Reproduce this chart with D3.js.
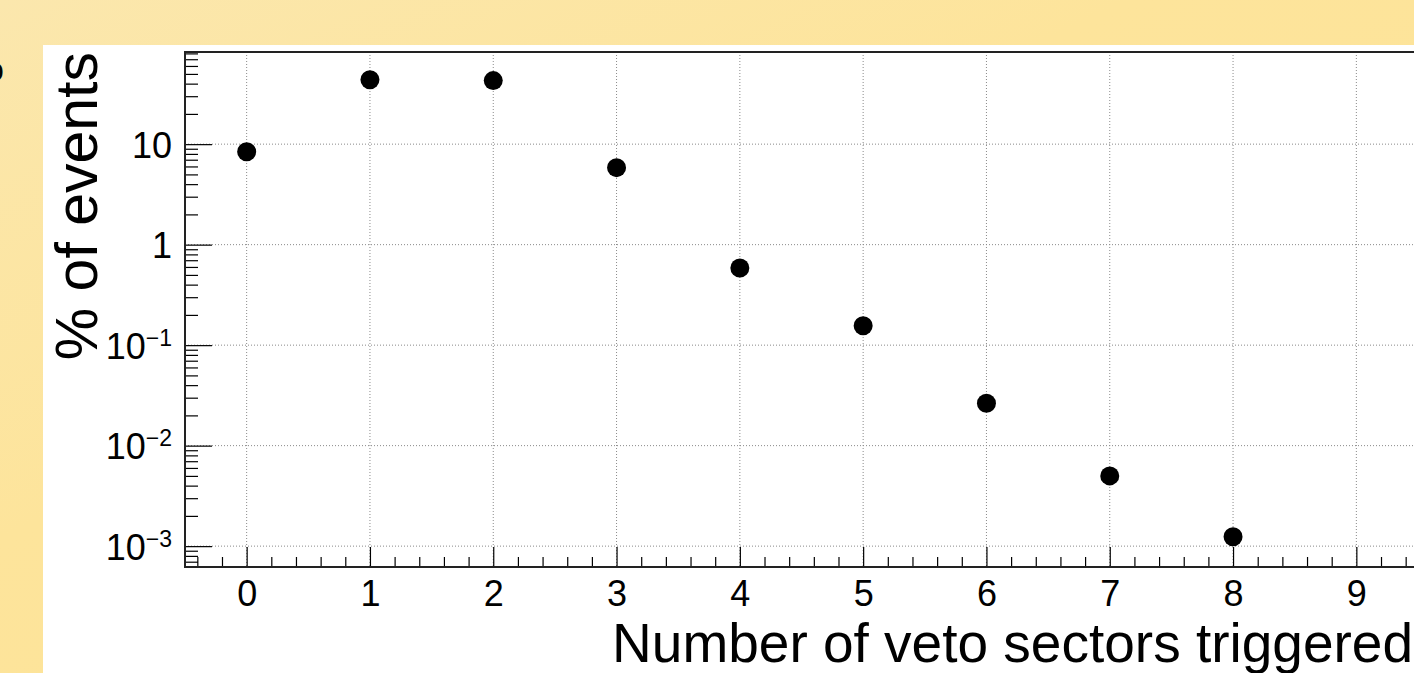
<!DOCTYPE html>
<html>
<head>
<meta charset="utf-8">
<script src="https://cdn.jsdelivr.net/npm/d3@7"></script>
<style>
  body { margin: 0; overflow: hidden; }
  svg { display: block; font-family: "Liberation Sans", Arial, Helvetica, sans-serif; }
</style>
</head>
<body>
<div id="chart"></div>
<script>
// Data
const categories = [0, 1, 2, 3, 4, 5, 6, 7, 8];
const percentEvents = [8.4, 43.8, 42.9, 5.84, 0.586, 0.156, 0.0264, 0.0050, 0.00124];
const xTickValues = [0, 1, 2, 3, 4, 5, 6, 7, 8, 9];
const yTickValues = [10, 1, 0.1, 0.01, 0.001];
const yTickLabels = [['10', null], ['1', null], ['10', '\u22121'], ['10', '\u22122'], ['10', '\u22123']];
const xTitle = 'Number of veto sectors triggered';
const yTitle = '% of events';

const width = 1414;
const height = 673;
const frame = { left: 185, right: 1418, top: 52, bottom: 567 };

const svg = d3.select('#chart')
    .append('svg')
    .attr('width', width)
    .attr('height', height);

// Slide background
const defs = svg.append('defs');
const grad = defs.append('linearGradient')
    .attr('id', 'slide-bg')
    .attr('x1', '0%').attr('y1', '0%')
    .attr('x2', '100%').attr('y2', '100%');
grad.append('stop').attr('offset', '0%').attr('stop-color', '#fbe7ad');
grad.append('stop').attr('offset', '40%').attr('stop-color', '#fde49b');
grad.append('stop').attr('offset', '100%').attr('stop-color', '#fde395');

svg.append('rect')
    .attr('width', width)
    .attr('height', height)
    .attr('fill', 'url(#slide-bg)');

// cut-off letter at the left edge of the slide
svg.append('text')
    .attr('x', 4)
    .attr('y', 81)
    .attr('text-anchor', 'end')
    .style('font-size', '34px')
    .text('o');

svg.append('rect')
    .attr('x', 43)
    .attr('y', 45)
    .attr('width', width - 43)
    .attr('height', height - 45)
    .attr('fill', '#fff');

// Scales
const x = d3.scaleLinear()
    .domain([-0.5, 9.5])
    .range([frame.left, frame.right]);

const y = d3.scaleLog()
    .domain([6.2e-4, 82.6])
    .range([frame.bottom, frame.top]);

// Grid lines (dotted, at major ticks only)
const grid = svg.append('g')
    .style('stroke', '#8a8a8a')
    .style('stroke-width', 1)
    .style('stroke-dasharray', '1,2');

grid.selectAll('.gx')
    .data(xTickValues)
    .enter().append('line')
    .attr('x1', d => x(d)).attr('x2', d => x(d))
    .attr('y1', frame.top).attr('y2', frame.bottom);

grid.selectAll('.gy')
    .data(yTickValues)
    .enter().append('line')
    .attr('x1', frame.left).attr('x2', frame.right)
    .attr('y1', d => y(d)).attr('y2', d => y(d));

// Minor tick values
const xMinor = d3.range(-4, 95, 2).map(d => d / 10).filter(d => Math.abs(d - Math.round(d)) > 1e-6);
const yMinor = [];
for (let e = -4; e <= 1; e++) {
    for (let k = 2; k <= 9; k++) {
        const v = k * Math.pow(10, e);
        if (v >= y.domain()[0] && v <= y.domain()[1]) yMinor.push(v);
    }
}

// Axes, ticks drawn inward like ROOT
const xAxisMinor = svg.append('g')
    .attr('transform', `translate(0,${frame.bottom})`)
    .call(d3.axisBottom(x).tickValues(xMinor).tickSize(-10).tickFormat(''));

const xAxis = svg.append('g')
    .attr('transform', `translate(0,${frame.bottom})`)
    .call(d3.axisBottom(x).tickValues(xTickValues).tickSize(-20).tickPadding(13).tickFormat(d3.format('d')));

const yAxisMinor = svg.append('g')
    .attr('transform', `translate(${frame.left},0)`)
    .call(d3.axisLeft(y).tickValues(yMinor).tickSize(-13).tickFormat(''));

const yAxis = svg.append('g')
    .attr('transform', `translate(${frame.left},0)`)
    .call(d3.axisLeft(y).tickValues(yTickValues).tickSize(-27).tickPadding(13).tickFormat(''));

[xAxisMinor, xAxis, yAxisMinor, yAxis].forEach(a => {
    a.select('.domain').remove();
    a.selectAll('line').attr('stroke', '#000').attr('stroke-width', 1.2);
});

xAxis.selectAll('text')
    .attr('fill', '#000')
    .style('font-size', '36px')
    .style('font-family', '"Liberation Sans", Arial, Helvetica, sans-serif');

// y labels with superscript exponents
yAxis.selectAll('text')
    .attr('fill', '#000')
    .attr('dy', '0.36em')
    .style('font-size', '36px')
    .style('font-family', '"Liberation Sans", Arial, Helvetica, sans-serif')
    .each(function(d, i) {
        const t = d3.select(this);
        const lab = yTickLabels[i];
        t.append('tspan').text(lab[0]);
        if (lab[1]) {
            t.append('tspan')
                .attr('dy', '-0.55em')
                .style('font-size', '23px')
                .text(lab[1]);
        }
    });

// Frame
svg.append('rect')
    .attr('x', frame.left)
    .attr('y', frame.top)
    .attr('width', frame.right - frame.left)
    .attr('height', frame.bottom - frame.top)
    .attr('fill', 'none')
    .attr('stroke', '#222')
    .attr('stroke-width', 2);

// Points
svg.append('g')
    .selectAll('circle')
    .data(categories)
    .enter().append('circle')
    .attr('cx', d => x(d))
    .attr('cy', (d, i) => y(percentEvents[i]))
    .attr('r', 9.5)
    .attr('fill', '#000');

// Axis titles
svg.append('text')
    .attr('x', 1413)
    .attr('y', 662)
    .attr('text-anchor', 'end')
    .style('font-size', '55px')
    .text(xTitle);

svg.append('text')
    .attr('transform', `translate(97,${frame.top}) rotate(-90)`)
    .attr('text-anchor', 'end')
    .style('font-size', '59px')
    .text(yTitle);
</script>
</body>
</html>
